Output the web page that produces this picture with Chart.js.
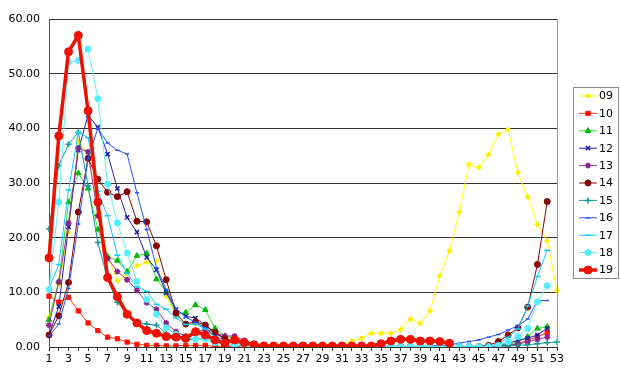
<!DOCTYPE html>
<html><head><meta charset="utf-8">
<script src="https://cdn.jsdelivr.net/npm/chart.js@4"></script>
<style>html,body{margin:0;padding:0;background:#fff}#wrap{width:620px;height:384px;position:relative}</style>
</head><body><div id="wrap"><canvas id="c" width="620" height="384"></canvas></div>
<script>
const weeks = ['1','2','3','4','5','6','7','8','9','10','11','12','13','14','15','16','17','18','19','20','21','22','23','24','25','26','27','28','29','30','31','32','33','34','35','36','37','38','39','40','41','42','43','44','45','46','47','48','49','50','51','52','53'];
const seriesNames = ['09','10','11','12','13','14','15','16','17','18','19'];
const yTicks = [0,10,20,30,40,50,60];

const s09 = [5.5,11.5,21.0,37.6,35.4,24.7,16.6,12.1,13.4,14.9, 15.5,15.8,9.3,5.8,4.0,4.3,3.8,2.5,1.5,1.2, 0.9,0.5,0.3,0.2,0.2,0.2,0.2,0.2,0.2,0.2, 0.3,1.1,1.6,2.5,2.5,2.5,3.2,5.1,4.3,6.6, 13.0,17.6,24.7,33.4,32.8,35.2,38.9,39.8,31.9,27.4, 22.4,19.4,10.3];
const s10 = [9.3,8.2,9.1,6.6,4.4,3.0,1.8,1.5,0.9,0.5, 0.3,0.3,0.2,0.2,0.3,0.3,0.3,0.1,0.1,0.1, 0.1,0.1,0.1,0.1,0.1,0.1,0.1,0.1,0.1,0.1, 0.1,0.1,0.1,0.1,0.1,0.1,0.1,0.1,0.1,0.1, 0.1,0.1,0.1,0.1,0.1,0.1,0.2,0.3,0.6,1.2, 1.9,2.6,null];
const s11 = [5.0,12.0,26.5,31.8,29.0,21.5,16.5,15.8,13.8,16.7, 17.1,12.4,10.1,6.0,6.3,7.7,6.8,3.4,2.0,1.5, 1.0,0.5,0.3,0.2,0.1,0.1,0.1,0.1,0.1,0.1, 0.1,0.1,0.1,0.1,0.1,0.1,0.1,0.1,0.1,0.1, 0.1,0.1,0.1,0.1,0.1,0.2,0.3,0.5,0.9,1.9, 3.4,3.7,null];
const s12 = [2.2,7.4,22.0,36.0,42.4,40.2,35.3,29.0,23.7,21.0, 16.4,14.1,9.9,6.9,5.6,5.3,4.0,2.5,1.5,1.0, 0.7,0.4,0.2,0.1,0.1,0.1,0.1,0.1,0.1,0.1, 0.1,0.1,0.1,0.1,0.1,0.1,0.1,0.1,0.1,0.1, 0.1,0.1,0.1,0.1,0.1,0.2,0.4,0.7,1.2,1.6, 2.2,3.4,null];
const s13 = [4.0,11.9,22.7,36.4,35.7,24.0,16.2,13.8,12.3,10.4, 8.1,6.9,4.4,2.8,2.0,2.6,3.3,2.6,2.0,2.0, 1.2,0.5,0.2,0.1,0.1,0.1,0.1,0.1,0.1,0.1, 0.1,0.1,0.1,0.1,0.1,0.1,0.1,0.1,0.1,0.1, 0.1,0.1,0.1,0.1,0.1,0.1,0.1,0.3,0.5,1.0, 1.4,1.8,null];
const s14 = [2.2,5.7,11.8,24.7,34.5,30.7,28.3,27.5,28.4,23.0, 22.9,18.5,12.3,6.2,4.2,4.6,4.0,2.7,1.5,1.0, 0.9,0.5,0.3,0.2,0.1,0.1,0.1,0.1,0.1,0.1, 0.1,0.1,0.1,0.1,0.1,0.1,0.1,0.1,0.1,0.1, 0.1,0.1,0.1,0.1,0.1,0.3,1.0,2.2,3.5,7.3, 15.1,26.6,null];
const s15 = [21.6,33.2,37.1,39.3,29.5,19.1,12.5,8.2,6.0,4.4, 4.2,4.0,2.5,1.8,1.2,1.5,1.5,0.8,0.4,0.3, 0.2,0.2,0.1,0.1,0.1,0.1,0.1,0.1,0.1,0.1, 0.1,0.1,0.1,0.1,0.1,0.1,0.1,0.1,0.1,0.1, 0.1,0.1,0.1,0.1,0.1,0.1,0.2,0.2,0.3,0.4, 0.6,0.8,0.9];
const s16 = [2.0,4.2,10.7,22.5,34.5,40.0,37.3,36.0,35.3,28.2, 21.5,14.5,10.5,7.0,5.5,4.5,3.5,2.0,1.2,0.8, 0.5,0.3,0.2,0.1,0.1,0.1,0.1,0.1,0.1,0.1, 0.1,0.1,0.1,0.1,0.1,0.1,0.1,0.1,0.1,0.2, 0.3,0.4,0.7,1.0,1.3,1.8,2.3,3.1,3.9,5.1, 8.5,8.5,null];
const s17 = [10.7,15.1,28.7,39.2,38.3,28.5,24.0,16.8,13.5,11.0, 10.2,7.8,6.9,5.3,4.1,4.2,3.3,1.8,1.2,0.7, 0.4,0.2,0.1,0.1,0.1,0.1,0.1,0.1,0.1,0.1, 0.1,0.1,0.1,0.1,0.1,0.1,0.1,0.1,0.1,0.1, 0.1,0.1,0.1,0.1,0.1,0.1,0.5,1.8,3.3,7.5, 12.9,17.7,null];
const s18 = [10.5,26.5,52.1,52.4,54.5,45.4,29.8,22.7,17.2,12.0, 8.7,6.0,3.5,2.3,1.7,1.4,1.5,0.8,0.5,0.3, 0.2,0.1,0.1,0.1,0.1,0.1,0.1,0.1,0.1,0.1, 0.1,0.1,0.1,0.1,0.1,0.1,0.1,0.1,0.1,0.1, 0.1,0.1,0.1,0.1,0.1,0.1,0.3,0.9,1.9,3.4, 8.3,11.2,null];
const s19 = [16.3,38.6,54.0,57.0,43.2,26.5,12.7,9.2,6.0,4.4, 3.0,2.5,1.9,1.8,1.6,2.8,2.2,1.3,0.7,1.3, 0.8,0.4,0.2,0.2,0.2,0.2,0.2,0.2,0.2,0.2, 0.2,0.2,0.2,0.2,0.6,1.1,1.4,1.4,1.1,1.1, 1.0,0.7,null,null,null,null,null,null,null,null, null,null,null];

const seriesData = [s09,s10,s11,s12,s13,s14,s15,s16,s17,s18,s19];
const lineColors  = ['#FFFF00','#FF3311','#33DD33','#2222BB','#993399','#8B0000','#119999','#2255FF','#11CCFF','#66F0FF','#EE1100'];
const markColors  = ['#FFEE00','#FF1100','#00BB00','#1A1AA0','#882288','#880000','#119999','#2255FF','#11CCFF','#55EEFF','#EE1100'];
const markStyles  = ['rectRot','rect','triangle','crossRot','star','circle','cross','line','line','circle','circle'];
const markRadius  = [2.6,3,3.2,3,3,3,3,2,3,3,4];
const lineWidths  = [1,1,1,1,1,1,1,1,1,1,3.5];

Chart.defaults.font.family = 'DejaVu Sans';
Chart.defaults.font.size = 11;
Chart.defaults.color = '#000';

const datasets = seriesNames.map((n,i)=>({
  label: n,
  data: seriesData[i],
  borderColor: lineColors[i],
  backgroundColor: markColors[i],
  pointBackgroundColor: markColors[i],
  pointBorderColor: markColors[i],
  pointStyle: markStyles[i],
  pointRadius: markRadius[i],
  pointBorderWidth: (markStyles[i]==='crossRot'||markStyles[i]==='cross'||markStyles[i]==='star'||markStyles[i]==='line') ? 1.5 : 1,
  borderWidth: lineWidths[i],
  tension: 0,
  fill: false,
  order: seriesNames.length - i
}));

const frame = {
  id:'frame',
  afterDatasetsDraw(chart){
    const {ctx, chartArea:a} = chart;
    ctx.save();
    ctx.strokeStyle = '#999'; ctx.lineWidth = 1;
    ctx.beginPath(); ctx.moveTo(Math.round(a.right)+0.5, a.top); ctx.lineTo(Math.round(a.right)+0.5, a.bottom); ctx.stroke();
    ctx.restore();
  },
  afterDraw(chart){
    const ctx = chart.ctx;
    ctx.save();
    const x0=573, y0=87, w=45, h=191;
    ctx.strokeStyle='#888'; ctx.lineWidth=1;
    ctx.strokeRect(x0+0.5,y0+0.5,w,h);
    ctx.font = '11px "DejaVu Sans"';
    ctx.textBaseline='middle'; ctx.textAlign='left';
    chart.data.datasets.forEach((ds,i)=>{
      const y = 96 + i*17.4;
      ctx.strokeStyle = ds.borderColor; ctx.lineWidth = ds.borderWidth;
      ctx.beginPath(); ctx.moveTo(579,y); ctx.lineTo(597,y); ctx.stroke();
      ctx.fillStyle = ds.pointBackgroundColor; ctx.strokeStyle = ds.pointBorderColor;
      ctx.lineWidth = ds.pointBorderWidth;
      Chart.helpers.drawPoint(ctx,{pointStyle:ds.pointStyle,radius:ds.pointRadius,borderWidth:ds.pointBorderWidth,rotation:0},588,y);
      ctx.fillStyle='#000';
      ctx.fillText(ds.label, 599, y+0.5);
    });
    ctx.restore();
  }
};

new Chart(document.getElementById('c'), {
  type:'line',
  data:{labels:weeks, datasets},
  options:{
    responsive:false, animation:false,
    layout:{padding:{top:19,right:63,left:0,bottom:0}},
    plugins:{legend:{display:false}, tooltip:{enabled:false}},
    scales:{
      x:{
        offset:false,
        grid:{color:'rgba(0,0,0,0)', tickColor:'#333', tickLength:4, drawOnChartArea:false},
        border:{color:'#333'},
        ticks:{autoSkip:false, maxRotation:0, padding:2,
          callback:function(v,i){const l=weeks[i]; return (+l)%2===1 ? l : '';}},
        afterFit:(s)=>{s.height=37;}
      },
      y:{
        min:0, max:60,
        afterBuildTicks:(s)=>{s.ticks = yTicks.map(v=>({value:v}));},
        grid:{color:'#333', drawTicks:false},
        border:{color:'#555'},
        ticks:{padding:9, callback:(v)=>Number(v).toFixed(2)},
        afterFit:(s)=>{s.width=49;}
      }
    }
  },
  plugins:[frame]
});
</script>
</body></html>
